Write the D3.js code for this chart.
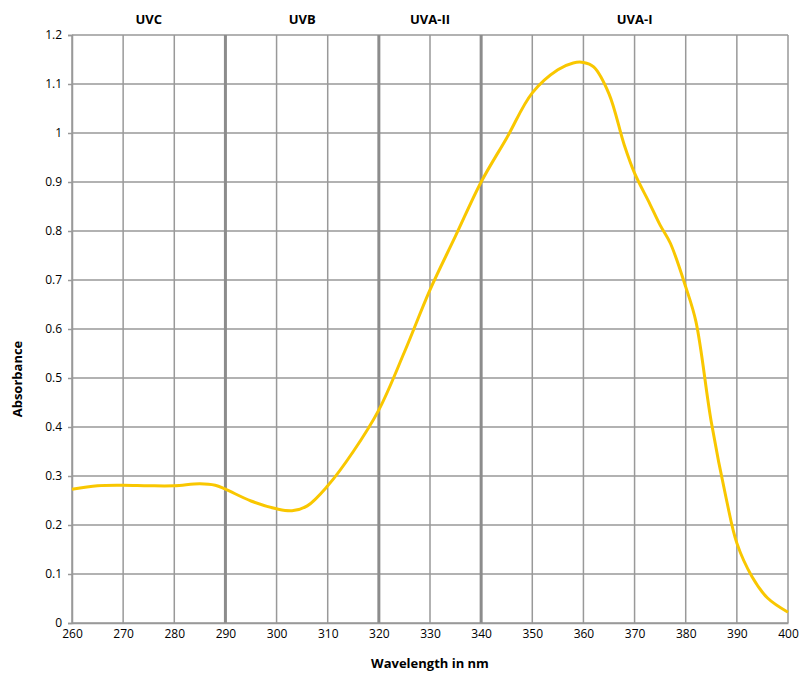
<!DOCTYPE html>
<html lang="en">
<head>
<meta charset="UTF-8">
<title>Absorbance</title>
<script src="https://d3js.org/d3.v7.min.js"></script>
<style>
    body { margin: 0; background: #fff; }
    text { font-family: "Open Sans", "Noto Sans", sans-serif; fill: #000; }
    .grid line { stroke: #999; stroke-width: 1.5px; }
    .grid .band { stroke: #8c8c8c; stroke-width: 3px; }
    .line { fill: none; stroke: #f9c700; stroke-width: 3px; }
</style>
</head>
<body>
<script>

    // wavelength (nm) and absorbance
    var wavelength = [260, 265, 270, 275, 280, 285, 288, 290, 295, 300, 303, 306, 310, 315, 320, 325, 330, 335, 340, 345, 350, 355, 358, 360, 362, 365, 368, 370, 373, 375, 377, 380, 382, 385, 388, 390, 393, 396, 400];
    var absorbance = [0.273, 0.280, 0.281, 0.280, 0.280, 0.284, 0.281, 0.273, 0.249, 0.233, 0.229, 0.239, 0.280, 0.350, 0.435, 0.553, 0.680, 0.790, 0.900, 0.990, 1.082, 1.129, 1.143, 1.144, 1.135, 1.080, 0.975, 0.918, 0.855, 0.812, 0.775, 0.686, 0.615, 0.410, 0.250, 0.163, 0.094, 0.051, 0.022];

    var xTicks = [260, 270, 280, 290, 300, 310, 320, 330, 340, 350, 360, 370, 380, 390, 400];
    var yTicks = [0, 0.1, 0.2, 0.3, 0.4, 0.5, 0.6, 0.7, 0.8, 0.9, 1, 1.1, 1.2];
    var bandEdges = [290, 320, 340];
    var bandNames = ["UVC", "UVB", "UVA-II", "UVA-I"];
    var bandCenters = [275, 305, 330, 370];

    var margin = {top: 35, right: 13, bottom: 50, left: 72},
        width = 801 - margin.left - margin.right,
        height = 673 - margin.top - margin.bottom;

    var x = d3.scaleLinear().domain([260, 400]).range([0, width]);
    var y = d3.scaleLinear().domain([0, 1.2]).range([height, 0]);

    var svg = d3.select("body")
        .append("svg")
        .attr("width", 801)
        .attr("height", 673)
        .append("g")
        .attr("transform", "translate(" + margin.left + "," + margin.top + ")");

    var grid = svg.append("g").attr("class", "grid");

    // horizontal grid lines (incl. the top border)
    grid.selectAll(".h")
        .data(yTicks)
        .enter().append("line")
        .attr("x1", 0).attr("x2", width)
        .attr("y1", function(d) { return y(d); })
        .attr("y2", function(d) { return y(d); });

    // vertical grid lines
    grid.selectAll(".v")
        .data(xTicks)
        .enter().append("line")
        .attr("class", function(d) { return bandEdges.indexOf(d) >= 0 ? "band" : null; })
        .attr("x1", function(d) { return x(d); })
        .attr("x2", function(d) { return x(d); })
        .attr("y1", 0).attr("y2", height);

    // axes
    var xAxis = d3.axisBottom(x).tickValues(xTicks).tickSize(0).tickPadding(6);
    var yAxis = d3.axisLeft(y).tickValues(yTicks).tickSize(4).tickPadding(6)
        .tickFormat(function(d) { return d3.format("~g")(d); });

    var gx = svg.append("g")
        .attr("transform", "translate(0," + height + ")")
        .call(xAxis);
    var gy = svg.append("g").call(yAxis);

    [gx, gy].forEach(function(g) {
        g.select(".domain").attr("stroke", "#999").attr("stroke-width", 1.5);
        g.selectAll(".tick line").attr("stroke", "#999").attr("stroke-width", 1.5);
        g.selectAll(".tick text").style("font-size", "12px").attr("fill", "#000");
    });

    // the curve
    var valueline = d3.line()
        .x(function(d, i) { return x(wavelength[i]); })
        .y(function(d) { return y(d); })
        .curve(d3.curveCatmullRom.alpha(0.5));

    svg.append("path")
        .datum(absorbance)
        .attr("class", "line")
        .attr("d", valueline);

    // band labels
    svg.selectAll(".bandlabel")
        .data(bandNames)
        .enter().append("text")
        .attr("x", function(d, i) { return x(bandCenters[i]); })
        .attr("y", -11)
        .attr("text-anchor", "middle")
        .style("font-size", "13px")
        .style("font-weight", "bold")
        .text(function(d) { return d; });

    // axis titles
    svg.append("text")
        .attr("x", width / 2)
        .attr("y", height + 45)
        .attr("text-anchor", "middle")
        .style("font-size", "13px")
        .style("font-weight", "bold")
        .text("Wavelength in nm");

    svg.append("text")
        .attr("transform", "translate(" + (-50) + "," + (height / 2 + 50) + ") rotate(-90)")
        .attr("text-anchor", "middle")
        .style("font-size", "13px")
        .style("font-weight", "bold")
        .text("Absorbance");

</script>
</body>
</html>
